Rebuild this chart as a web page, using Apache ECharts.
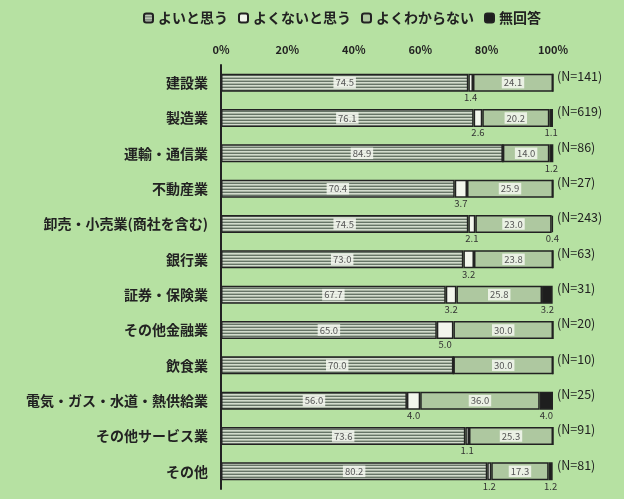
<!DOCTYPE html>
<html><head><meta charset="utf-8">
<script src="https://cdn.jsdelivr.net/npm/echarts@6/dist/echarts.min.js"></script>
<style>html,body{margin:0;padding:0;background:#b6e1a2;}#c{width:624px;height:499px;}</style>
</head><body><div id="c"></div>
<script>
const categories = ['建設業','製造業','運輸・通信業','不動産業','卸売・小売業(商社を含む)','銀行業','証券・保険業','その他金融業','飲食業','電気・ガス・水道・熱供給業','その他サービス業','その他'];
const good    = [74.5, 76.1, 84.9, 70.4, 74.5, 73.0, 67.7, 65.0, 70.0, 56.0, 73.6, 80.2];
const notGood = [1.4, 2.6, 0, 3.7, 2.1, 3.2, 3.2, 5.0, 0, 4.0, 1.1, 1.2];
const unknown = [24.1, 20.2, 14.0, 25.9, 23.0, 23.8, 25.8, 30.0, 30.0, 36.0, 25.3, 17.3];
const noAnswer= [0, 1.1, 1.2, 0, 0.4, 0, 3.2, 0, 0, 4.0, 0, 1.2];
const nCounts = [141, 619, 86, 27, 243, 63, 31, 20, 10, 25, 91, 81];
const seriesNames = ['よいと思う','よくないと思う','よくわからない','無回答'];
const xTicks = [0, 20, 40, 60, 80, 100];

const cv = document.createElement('canvas');
cv.width = 4; cv.height = 3;
const cx = cv.getContext('2d');
cx.fillStyle = '#667466'; cx.fillRect(0,0,4,1);
cx.fillStyle = '#d3dccd'; cx.fillRect(0,1,4,1);
cx.fillStyle = '#a7b3a2'; cx.fillRect(0,2,4,1);
const stripe = {image: cv, repeat: 'repeat'};

const fmt1 = v => (v.value > 0 ? v.value.toFixed(1) : '');
const insideLabel = {show: true, position: 'inside', formatter: fmt1, fontSize: 9.5, color: '#555', backgroundColor: 'rgba(245,248,240,0.85)', padding: [1, 2]};
const belowLabel = {show: true, position: 'bottom', distance: 1, formatter: fmt1, fontSize: 9.5, color: '#333'};
const border = {borderColor: '#222', borderWidth: 1.5};

const chart = echarts.init(document.getElementById('c'), null, {renderer: 'canvas'});
chart.setOption({
  backgroundColor: '#b6e1a2',
  animation: false,
  textStyle: {fontFamily: '"Noto Sans CJK JP", sans-serif'},
  legend: {
    top: 6, left: 138, itemWidth: 9, itemHeight: 9, itemGap: 10,
    textStyle: {fontSize: 14, color: '#222', fontWeight: 'bold'},
    data: seriesNames
  },
  grid: {left: 221, right: 71, top: 65, bottom: 10},
  xAxis: {
    type: 'value', position: 'top', min: 0, max: 100, interval: 20,
    axisLine: {show: false}, axisTick: {show: false}, splitLine: {show: false},
    axisLabel: {margin: 10, fontSize: 11, color: '#222', fontWeight: 'bold', formatter: v => xTicks.includes(v) ? v + '%' : ''}
  },
  yAxis: [{
    type: 'category', inverse: true, data: categories,
    axisLine: {show: true, lineStyle: {color: '#222', width: 2}},
    axisTick: {show: false},
    axisLabel: {margin: 13, fontSize: 14, color: '#222', fontWeight: 'bold'}
  }, {
    type: 'category', inverse: true, position: 'right', data: nCounts.map(n => '(N=' + n + ')'),
    axisLine: {show: false}, axisTick: {show: false},
    axisLabel: {margin: 4, fontSize: 12.5, color: '#222', verticalAlign: 'bottom'}
  }],
  series: [
    {name: seriesNames[0], type: 'bar', stack: 't', barWidth: 18, data: good, itemStyle: Object.assign({color: stripe}, border), label: insideLabel},
    {name: seriesNames[1], type: 'bar', stack: 't', data: notGood, itemStyle: Object.assign({color: '#f2f6ec'}, border), label: belowLabel},
    {name: seriesNames[2], type: 'bar', stack: 't', data: unknown, itemStyle: Object.assign({color: '#aec8a0'}, border), label: insideLabel},
    {name: seriesNames[3], type: 'bar', stack: 't', data: noAnswer, itemStyle: Object.assign({color: '#1e1e1e'}, border), label: belowLabel}
  ]
});
</script></body></html>
